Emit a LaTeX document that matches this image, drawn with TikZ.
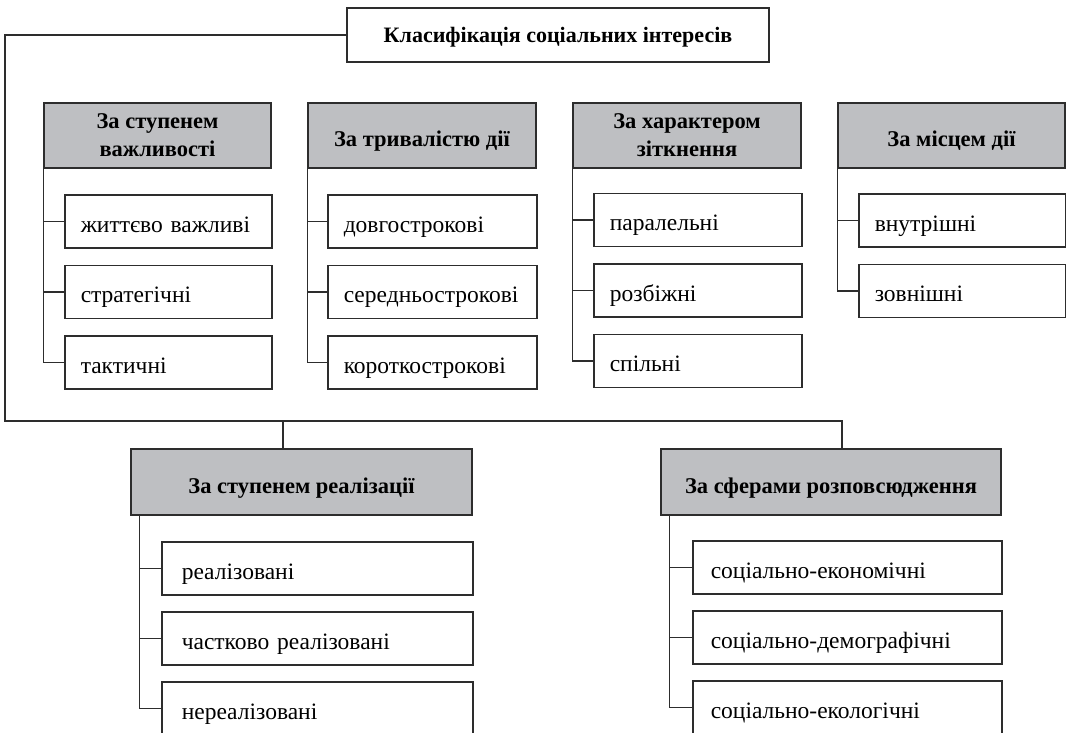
\documentclass[tikz,border=0pt]{standalone}
\usepackage{fontspec}
\setmainfont{Liberation Serif}
\usetikzlibrary{positioning}

\definecolor{headgray}{RGB}{190,191,194}
\definecolor{linegray}{RGB}{45,45,45}

\tikzset{
  head/.style={draw=linegray, line width=1.5pt, fill=headgray,
    font=\fontsize{22.5}{28}\selectfont\bfseries, align=center,
    minimum height=65pt, inner sep=0pt},
  oneline/.style={text height=22pt, text depth=0pt},
  item/.style={draw=linegray, line width=1.5pt, fill=white,
    font=\fontsize{23.5}{27}\selectfont, align=left, anchor=west,
    text height=22pt, text depth=1pt,
    minimum height=53pt, inner xsep=16pt, inner ysep=0pt},
  link/.style={draw=linegray, line width=1.3pt}
}

\begin{document}
\begin{tikzpicture}[x=1pt, y=-1pt]
  \useasboundingbox (0,0) rectangle (1066,733);

  % title
  \node[draw=linegray, line width=1.5pt, minimum width=422pt, minimum height=54pt,
    text height=16pt, text depth=0pt,
    font=\fontsize{22}{26}\selectfont\bfseries] (title) at (558,35)
    {Класифікація соціальних інтересів};

  % 1) upper row of groups
  \node[head, minimum width=227pt] (h1) at (157.5,135.5) {За ступенем\\важливості};
  \node[head, oneline, minimum width=228pt] (h2) at (422,135.5) {За тривалістю дії};
  \node[head, minimum width=228pt] (h3) at (687,135.5) {За характером\\зіткнення};
  \node[head, oneline, minimum width=227pt] (h4) at (951.5,135.5) {За місцем дії};

  \foreach \t [count=\i] in {життєво важливі, стратегічні, тактичні}
    \node[item, text width=175pt] (h1c\i) at (64,{221.5+70.5*(\i-1)}) {\t};
  \foreach \t [count=\i] in {довгострокові, середньострокові, короткострокові}
    \node[item, text width=177pt] (h2c\i) at (327,{221.5+70.5*(\i-1)}) {\t};
  \foreach \t [count=\i] in {паралельні, розбіжні, спільні}
    \node[item, text width=176pt] (h3c\i) at (593,{220+70.5*(\i-1)}) {\t};
  \foreach \t [count=\i] in {внутрішні, зовнішні}
    \node[item, text width=175pt] (h4c\i) at (858,{220.5+70.5*(\i-1)}) {\t};

  % 2) lower row of groups
  \node[head, oneline, minimum width=341pt, minimum height=66pt] (r1) at (301.5,482) {За ступенем реалізації};
  \node[head, oneline, minimum width=340pt, minimum height=66pt] (r2) at (831,482) {За сферами розповсюдження};

  \foreach \t [count=\i] in {реалізовані, частково реалізовані, нереалізовані}
    \node[item, inner xsep=20pt, text width=271pt] (r1c\i) at (161,{568.5+70*(\i-1)}) {\t};
  \foreach \t [count=\i] in {соціально-економічні, соціально-демографічні, соціально-екологічні}
    \node[item, inner xsep=18pt, text width=273pt] (r2c\i) at (692,{567.5+70*(\i-1)}) {\t};

  % connectors inside the groups
  \draw[link] (h1.south west) |- (h1c3.west);
  \draw[link] (h2.south west) |- (h2c3.west);
  \draw[link] (h3.south west) |- (h3c3.west);
  \draw[link] (h4.south west) |- (h4c2.west);
  \foreach \g in {h1,h2,h3}
    \foreach \i in {1,2}
      \draw[link] (\g c\i.west) -- (\g c\i.west -| \g.south west);
  \draw[link] (h4c1.west) -- (h4c1.west -| h4.south west);

  \coordinate (r1s) at ([xshift=9pt]r1.south west);
  \coordinate (r2s) at ([xshift=9pt]r2.south west);
  \draw[link] (r1s) |- (r1c3.west);
  \draw[link] (r2s) |- (r2c3.west);
  \foreach \i in {1,2} {
    \draw[link] (r1c\i.west) -- (r1c\i.west -| r1s);
    \draw[link] (r2c\i.west) -- (r2c\i.west -| r2s);
  }

  % outer frame from the title
  \coordinate (bl) at (5,421);
  \coordinate (bm) at (283,421);
  \coordinate (br) at (842,421);
  \draw[link] (title.west) -| (bl) -- (br) -- (br |- r2.north);
  \draw[link] (bm) -- (bm |- r1.north);
\end{tikzpicture}
\end{document}
